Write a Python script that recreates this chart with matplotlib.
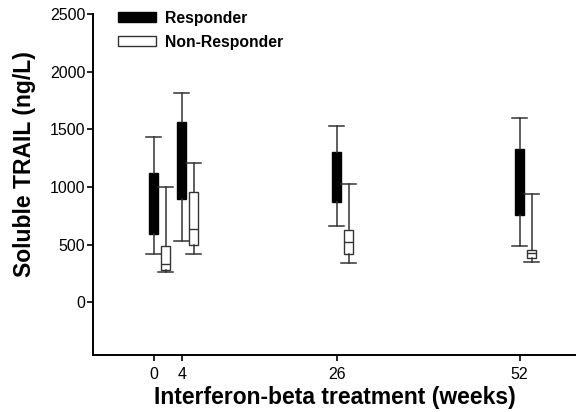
import matplotlib
matplotlib.use('Agg')
import matplotlib.pyplot as plt
from matplotlib.patches import Patch

plt.rcParams['font.family'] = ['Liberation Sans', 'DejaVu Sans']

# weeks of treatment
weeks = [0, 4, 26, 52]

# Responder box stats (ng/L)
resp_whishi = [1433, 1815, 1531, 1601]
resp_q3 = [1122, 1562, 1303, 1326]
# medians are hidden by the solid black boxes in the source chart,
# these are placeholder guesses inside each box, not read values
resp_med = [850, 1200, 1080, 1040]
resp_q1 = [593, 896, 870, 760]
resp_whislo = [420, 536, 665, 491]

# Non-Responder box stats (ng/L)
non_whishi = [997, 1208, 1023, 936]
non_q3 = [490, 957, 630, 459]
non_med = [330, 640, 520, 433]
non_q1 = [285, 497, 416, 385]
non_whislo = [265, 423, 344, 350]

OFFSET = 1.7   # non-responder box sits right of the week
BOX_W = 1.2
CAP_W = 2.1


def make_stats(hi, q3, med, q1, lo):
    return [dict(whishi=h, q3=a, med=m, q1=b, whislo=l, fliers=[])
            for h, a, m, b, l in zip(hi, q3, med, q1, lo)]


fig = plt.figure(figsize=(5.76, 4.12), dpi=100)
ax = fig.add_axes([93/576, 1-355/412, 1-93/576, (355-14)/412])

resp_stats = make_stats(resp_whishi, resp_q3, resp_med, resp_q1, resp_whislo)
ax.bxp(resp_stats, positions=weeks, widths=BOX_W, capwidths=CAP_W,
       patch_artist=True, showfliers=False, manage_ticks=False,
       boxprops=dict(facecolor='black', edgecolor='black', linewidth=1),
       medianprops=dict(color='black', linewidth=1),
       whiskerprops=dict(color='#333333', linewidth=1.1),
       capprops=dict(color='#333333', linewidth=1.1))

non_stats = make_stats(non_whishi, non_q3, non_med, non_q1, non_whislo)
ax.bxp(non_stats, positions=[w + OFFSET for w in weeks], widths=BOX_W,
       capwidths=CAP_W, patch_artist=True, showfliers=False, manage_ticks=False,
       boxprops=dict(facecolor='white', edgecolor='#333333', linewidth=1),
       medianprops=dict(color='#333333', linewidth=1),
       whiskerprops=dict(color='#333333', linewidth=1.1),
       capprops=dict(color='#333333', linewidth=1.1))

ax.set_xlim(-8.6, 60)
ax.set_ylim(-455, 2500)
ax.set_xticks(weeks)
ax.set_yticks([0, 500, 1000, 1500, 2000, 2500])
ax.spines['top'].set_visible(False)
ax.spines['right'].set_visible(False)
ax.spines['left'].set_linewidth(1.4)
ax.spines['bottom'].set_linewidth(1.4)
ax.tick_params(axis='both', labelsize=11.5, width=1.2, length=4.5)
ax.tick_params(axis='y', pad=1)
ax.tick_params(axis='x', pad=4)

ax.set_ylabel('Soluble TRAIL (ng/L)', fontsize=16.5, fontweight='bold')
ax.yaxis.set_label_coords(-0.118, 0.559)
ax.set_xlabel('Interferon-beta treatment (weeks)', fontsize=16.5, fontweight='bold', labelpad=3)

handles = [Patch(facecolor='black', edgecolor='black', label='Responder'),
           Patch(facecolor='white', edgecolor='#333333', label='Non-Responder')]
ax.legend(handles=handles, loc='upper left', frameon=False,
          bbox_to_anchor=(118/576, 1-11/412), bbox_transform=fig.transFigure,
          borderpad=0, borderaxespad=0, handlelength=2.4, handleheight=0.6,
          handletextpad=0.6, labelspacing=0.55,
          prop=dict(family='Liberation Sans', weight='bold', size=11.3))

fig.savefig('out.png', dpi=100)
